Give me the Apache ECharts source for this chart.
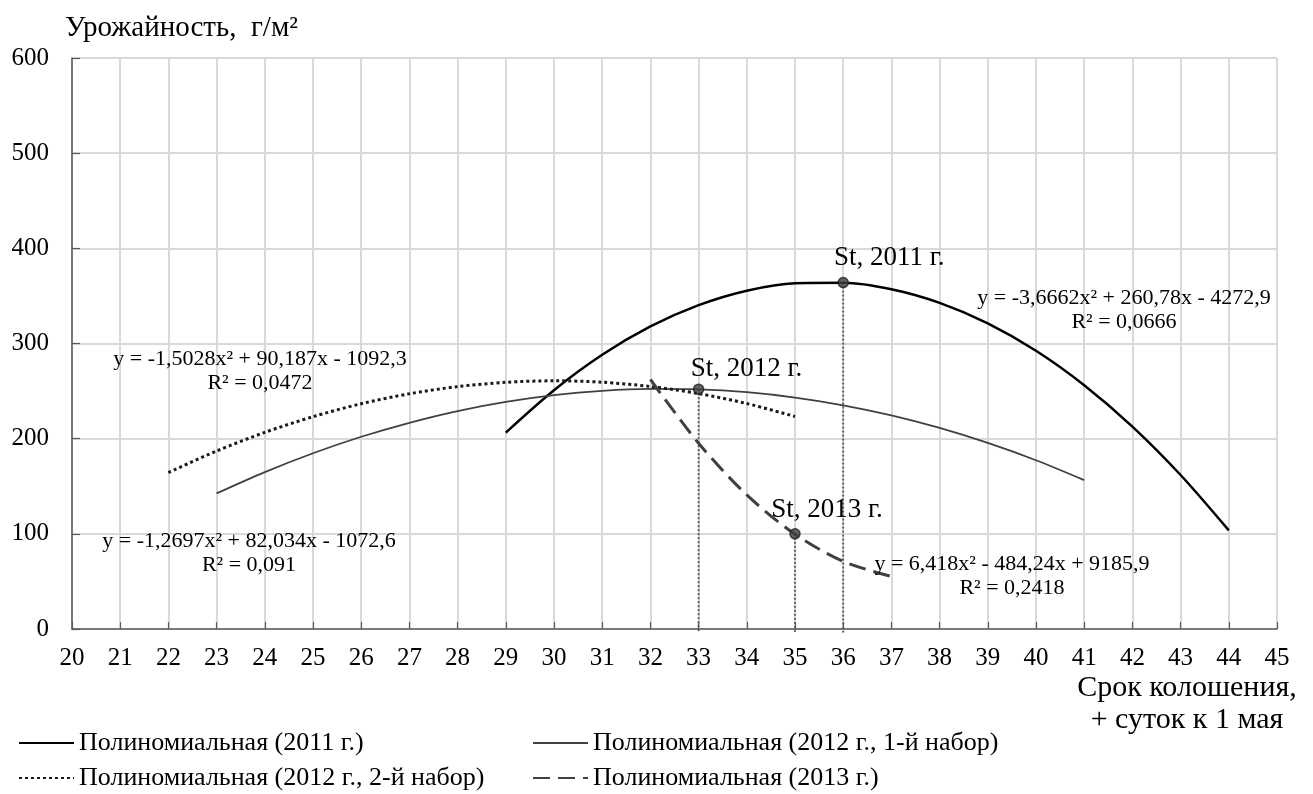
<!DOCTYPE html>
<html>
<head>
<meta charset="utf-8">
<script src="https://cdn.jsdelivr.net/npm/echarts@6/dist/echarts.min.js"></script>
<style>
  html, body { margin: 0; padding: 0; background: #fff; }
  #chart { width: 1313px; height: 794px; }
</style>
</head>
<body>
<div id="chart"></div>
<script>
// values (days after 1 May -> yield, g/m2)
var days2011 = [29, 30, 31, 32, 33, 34, 35, 36, 37, 38, 39, 40, 41, 42, 43, 44];
var yield2011 = [206.4, 250.9, 288.1, 317.9, 340.3, 355.5, 363.3, 363.8, 357.0, 342.7, 321.2, 292.4, 256.2, 212.7, 161.8, 103.6];

var days2012a = [23, 24, 25, 26, 27, 28, 29, 30, 31, 32, 33, 34, 35, 36, 37, 38, 39, 40, 41];
var yield2012a = [142.5, 164.9, 184.7, 202.0, 216.7, 229.0, 238.6, 245.7, 250.3, 252.3, 251.8, 248.8, 243.2, 235.1, 224.5, 211.3, 195.5, 177.3, 156.4];

var days2012b = [22, 23, 24, 25, 26, 27, 28, 29, 30, 31, 32, 33, 34, 35];
var yield2012b = [164.4, 187.0, 206.6, 223.1, 236.7, 247.2, 254.7, 259.2, 260.8, 259.3, 254.8, 247.4, 236.9, 223.3];

var days2013 = [32, 33, 34, 35, 36, 37];
var yield2013 = [262.2, 195.2, 140.9, 99.6, 71.0, 55.2];

// standard (St) points
var stNames = ['St, 2011 г.', 'St, 2012 г.', 'St, 2013 г.'];
var stDays = [36, 33, 35];
var stYield = [364, 252, 100];

var seriesNames = [
    'Полиномиальная (2011 г.)',
    'Полиномиальная (2012 г., 1-й набор)',
    'Полиномиальная (2012 г., 2-й набор)',
    'Полиномиальная (2013 г.)'
];

var equations = [
    'y = -3,6662x² + 260,78x - 4272,9\nR² = 0,0666',
    'y = -1,2697x² + 82,034x - 1072,6\nR² = 0,091',
    'y = -1,5028x² + 90,187x - 1092,3\nR² = 0,0472',
    'y = 6,418x² - 484,24x + 9185,9\nR² = 0,2418'
];

var FONT = '"Liberation Serif", "Times New Roman", serif';

function zip(xs, ys) {
    return xs.map(function (x, i) { return [x, ys[i]]; });
}

// label offsets for St points, px
var stLabelOffsets = [[46, 5], [48, 9], [32, 5]];
// equation text positions, px
var eqPos = [[1124, 310], [249, 553], [260, 371], [1012, 576]];

var myChart = echarts.init(document.getElementById('chart'));

var dropSeries = stDays.map(function (d, i) {
    return {
        type: 'line',
        data: [[d, stYield[i]], [d, -4]],
        symbol: 'none',
        clip: false,
        silent: true,
        z: 1,
        lineStyle: { color: '#555', width: 1.8, type: [2, 2] }
    };
});

function legendBox(names, left) {
    return {
        data: names,
        orient: 'vertical',
        left: left,
        top: 729,
        padding: 0,
        height: 80,
        itemWidth: 55,
        itemHeight: 14,
        itemGap: 7,
        itemStyle: { opacity: 0, borderWidth: 0 },
        textStyle: { fontFamily: FONT, fontSize: 26, color: '#000', lineHeight: 28 }
    };
}

var option = {
    animation: false,
    backgroundColor: '#fff',
    textStyle: { fontFamily: FONT, color: '#000' },
    grid: { left: 72, right: 36, top: 58, bottom: 165 },
    xAxis: {
        type: 'value',
        min: 20,
        max: 45,
        interval: 1,
        axisLine: { show: true, lineStyle: { color: '#595959', width: 1.5 } },
        axisTick: { show: true, inside: true, length: 7, lineStyle: { color: '#595959', width: 1.2 } },
        axisLabel: { fontFamily: FONT, fontSize: 25, color: '#000', margin: 17 },
        splitLine: { show: true, lineStyle: { color: '#d9d9d9', width: 2 } }
    },
    yAxis: {
        type: 'value',
        min: 0,
        max: 600,
        interval: 100,
        axisLine: { show: true, lineStyle: { color: '#595959', width: 1.5 } },
        axisTick: { show: true, inside: true, length: 8, lineStyle: { color: '#595959', width: 1.2 } },
        axisLabel: { fontFamily: FONT, fontSize: 25, color: '#000', margin: 23 },
        splitLine: { show: true, lineStyle: { color: '#d9d9d9', width: 2 } }
    },
    legend: [
        legendBox([seriesNames[0], seriesNames[2]], 18),
        legendBox([seriesNames[1], seriesNames[3]], 532)
    ],
    graphic: [
        {
            type: 'text', x: 65, y: 28,
            style: { text: 'Урожайность,  г/м²', font: '29px ' + FONT, fill: '#000', align: 'left', verticalAlign: 'middle' }
        },
        {
            type: 'text', x: 1187, y: 704,
            style: { text: 'Срок колошения,\n+ суток к 1 мая', font: '30px ' + FONT, fill: '#000', align: 'center', verticalAlign: 'middle', lineHeight: 32 }
        }
    ].concat(equations.map(function (t, i) {
        return {
            type: 'text', x: eqPos[i][0], y: eqPos[i][1], z: 5,
            style: { text: t, font: '22px ' + FONT, fill: '#000', align: 'center', verticalAlign: 'middle', lineHeight: 24 }
        };
    })),
    series: [
        {
            name: seriesNames[0],
            type: 'line',
            data: zip(days2011, yield2011),
            smooth: 0.3,
            symbol: 'none',
            z: 3,
            itemStyle: { color: '#000' },
            lineStyle: { color: '#000', width: 2.5 }
        },
        {
            name: seriesNames[1],
            type: 'line',
            data: zip(days2012a, yield2012a),
            smooth: 0.3,
            symbol: 'none',
            z: 3,
            itemStyle: { color: '#404040' },
            lineStyle: { color: '#404040', width: 1.8 }
        },
        {
            name: seriesNames[2],
            type: 'line',
            data: zip(days2012b, yield2012b),
            smooth: 0.3,
            symbol: 'none',
            z: 3,
            itemStyle: { color: '#1a1a1a' },
            lineStyle: { color: '#1a1a1a', width: 3, type: [3, 3] }
        },
        {
            name: seriesNames[3],
            type: 'line',
            data: zip(days2013, yield2013),
            smooth: 0.3,
            symbol: 'none',
            z: 3,
            itemStyle: { color: '#404040' },
            lineStyle: { color: '#404040', width: 3, type: [17, 8] }
        }
    ].concat(dropSeries).concat([
        {
            type: 'scatter',
            z: 6,
            symbol: 'circle',
            symbolSize: 10,
            itemStyle: { color: '#404040', borderColor: '#222', borderWidth: 1.5 },
            data: stDays.map(function (d, i) {
                return {
                    value: [d, stYield[i]],
                    name: stNames[i],
                    label: { offset: stLabelOffsets[i] }
                };
            }),
            label: {
                show: true,
                position: 'top',
                distance: 10,
                formatter: '{b}',
                fontFamily: FONT,
                fontSize: 27,
                color: '#000',
                opacity: 1
            }
        }
    ])
};

myChart.setOption(option);
</script>
</body>
</html>
